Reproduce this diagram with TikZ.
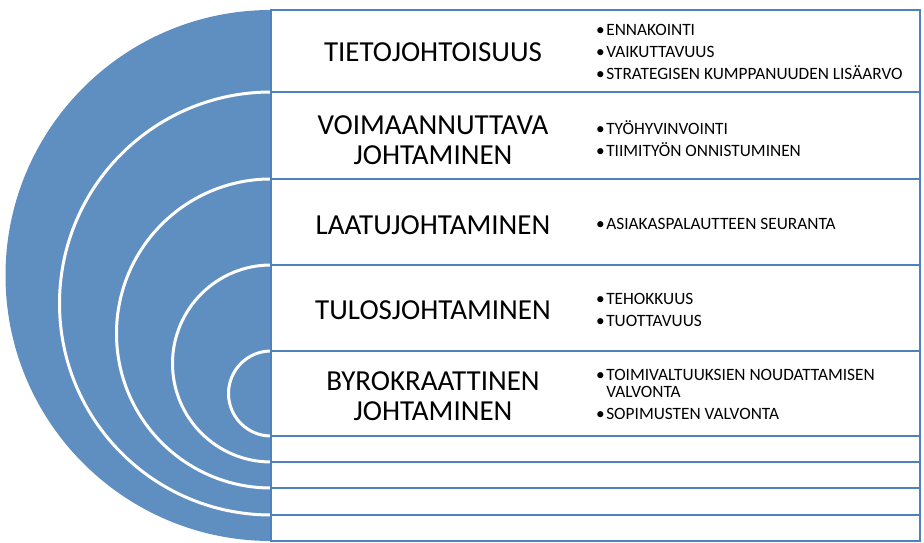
\documentclass[tikz,border=0pt]{standalone}
\usepackage{fontspec}
\setmainfont{Carlito}
\usepackage{tikz}

\definecolor{ringblue}{RGB}{95,142,192}
\definecolor{boxblue}{RGB}{79,129,189}
\newcommand{\itm}[1]{\textbullet\hspace{1.5pt}#1}
\newcommand{\itmcont}[1]{\phantom{\textbullet}\hspace{1.5pt}#1}

\tikzset{
  headtext/.style={align=center, font=\fontsize{29}{30}\selectfont},
  listtext/.style={anchor=west, align=left, inner sep=0pt, font=\fontsize{17.3}{17}\selectfont},
}

\begin{document}
\begin{tikzpicture}[x=1pt,y=1pt]
    \useasboundingbox (0,0) rectangle (924,543);
    \coordinate (C) at (271,267.5);
    \fill[ringblue] (271,533) arc[start angle=90, end angle=270, radius=265.5] -- cycle;
    \foreach \t/\b in {451/28,364/55,278/81,192/107}
        \draw[white, line width=3pt] (271,\t) arc[start angle=90, end angle=270, radius={(\t-\b)/2}];
    \foreach \t/\b in {533/451,451/364,364/278,278/192,192/107,107/81,81/55,55/28,28/2}
        \draw[boxblue, line width=2.8pt, fill=white] (271,\t) rectangle (920,\b);
    \node[headtext] (t1) at (433,491) {TIETOJOHTOISUUS};
    \node[headtext] (t2) at (433,403) {VOIMAANNUTTAVA\\JOHTAMINEN};
    \node[headtext] (t3) at (433,318) {LAATUJOHTAMINEN};
    \node[headtext] (t4) at (433,233) {TULOSJOHTAMINEN};
    \node[headtext] (t5) at (433,146.5) {BYROKRAATTINEN\\JOHTAMINEN};
    \node[listtext] (l1) at (596,491) {\itm{ENNAKOINTI}\\[5pt]\itm{VAIKUTTAVUUS}\\[5pt]\itm{STRATEGISEN KUMPPANUUDEN LISÄARVO}};
    \node[listtext] (l2) at (596,404) {\itm{TYÖHYVINVOINTI}\\[5pt]\itm{TIIMITYÖN ONNISTUMINEN}};
    \node[listtext] (l3) at (596,319) {\itm{ASIAKASPALAUTTEEN SEURANTA}};
    \node[listtext] (l4) at (596,233.5) {\itm{TEHOKKUUS}\\[5pt]\itm{TUOTTAVUUS}};
    \node[listtext] (l5) at (596,148.5) {\itm{TOIMIVALTUUKSIEN NOUDATTAMISEN}\\\itmcont{VALVONTA}\\[5pt]\itm{SOPIMUSTEN VALVONTA}};
\end{tikzpicture}
\end{document}
